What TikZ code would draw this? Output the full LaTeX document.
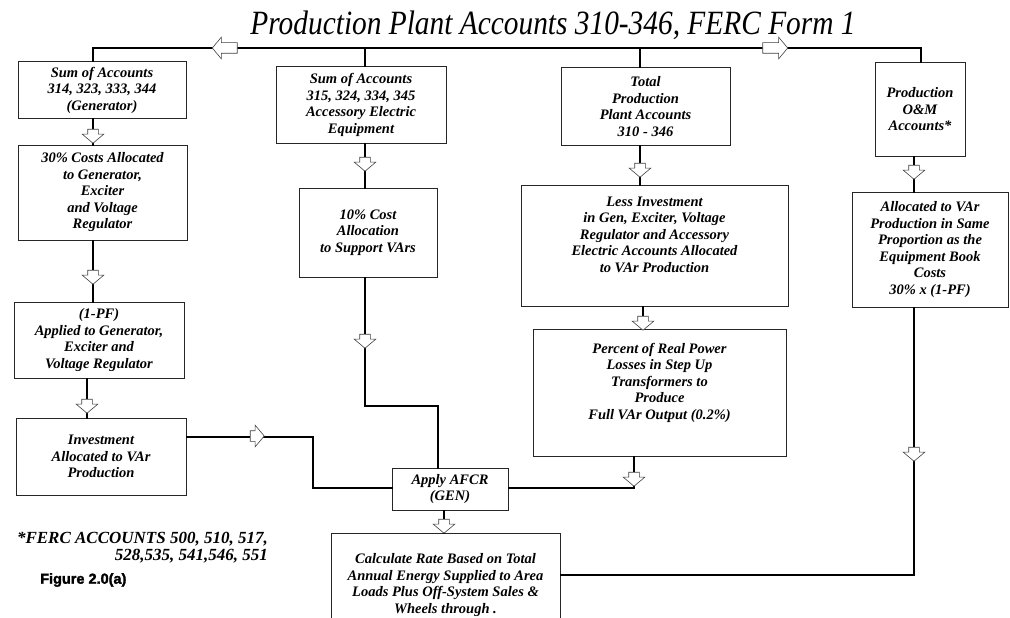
\documentclass[tikz,border=0pt]{standalone}
\usepackage{fontspec}
\setmainfont{Liberation Serif}
\newfontfamily\figfont[BoldFeatures={FakeBold=2}]{Liberation Sans}
\usetikzlibrary{shapes.arrows}

\begin{document}
\begin{tikzpicture}[x=1pt, y=-1pt,
  box/.style={draw=black!85, line width=1pt, fill=white, align=center, inner sep=1pt, font=\fontsize{14.5}{16.5}\selectfont\bfseries\itshape},
  conn/.style={line width=2pt, line cap=rect},
  harrow/.style={single arrow, draw=black!75, fill=white, line width=.6pt, inner xsep=0pt, inner ysep=5pt, minimum height=14pt, single arrow head extend=5.5pt, single arrow tip angle=100},
  darrow/.style={harrow, rotate=-90}]
\useasboundingbox (0,0) rectangle (1010,618);
\node[font=\fontsize{34}{34}\selectfont\itshape, anchor=base, inner sep=0pt] (title) at (553,35) {\scalebox{0.864}[1]{Production Plant Accounts 310-346, FERC Form 1}};
\node[box, minimum width=168pt, minimum height=56pt] (a1) at (102,90) {Sum of Accounts\\314, 323, 333, 344\\(Generator)};
\node[box, minimum width=169pt, minimum height=95pt] (a2) at (102.5,192.5) {30\% Costs Allocated\\to Generator,\\Exciter\\and Voltage\\Regulator};
\node[box, minimum width=170pt, minimum height=76pt] (a3) at (99,340) {(1-PF)\\Applied to Generator,\\Exciter and\\Voltage Regulator};
\node[box, minimum width=170pt, minimum height=77pt] (a4) at (101,456.5) {Investment\\Allocated to VAr\\Production};
\node[box, minimum width=170pt, minimum height=76pt] (b1) at (361,105) {Sum of Accounts\\315, 324, 334, 345\\Accessory Electric\\Equipment};
\node[box, minimum width=138pt, minimum height=89pt] (b2) at (368,232.5) {10\% Cost\\Allocation\\to Support VArs};
\node[box, minimum width=169pt, minimum height=77pt] (c1) at (645.5,106.5) {Total\\Production\\Plant Accounts\\310 - 346};
\node[box, minimum width=267pt, minimum height=121pt] (c2) at (654.5,245.5) {Less Investment\\in Gen, Exciter, Voltage\\Regulator and Accessory\\Electric Accounts Allocated\\to VAr Production\\[5pt]};
\node[box, minimum width=253pt, minimum height=127pt] (c3) at (659.5,392.5) {Percent of Real Power\\Losses in Step Up\\Transformers to\\Produce\\Full VAr Output (0.2\%)\\[6pt]};
\node[box, minimum width=90pt, minimum height=93pt] (d1) at (920,109.5) {Production\\O\&M\\Accounts*};
\node[box, minimum width=156pt, minimum height=115pt] (d2) at (930,249.5) {Allocated to VAr\\Production in Same\\Proportion as the\\Equipment Book\\Costs\\30\% x (1-PF)};
\node[box, minimum width=116pt, minimum height=42pt] (afcr) at (450,489) {Apply AFCR\\(GEN)};
\node[box, minimum width=229pt, minimum height=104pt] (calc) at (445.5,585) {Calculate Rate Based on Total\\Annual Energy Supplied to Area\\Loads Plus Off-System Sales \&\\Wheels through .};
\node[font=\fontsize{17}{17}\selectfont\bfseries\itshape, align=right, anchor=north east, inner sep=0pt] (ferc) at (268,532) {*FERC ACCOUNTS 500, 510, 517,\\528,535, 541,546, 551};
\node[font=\fontsize{14.5}{15}\selectfont\figfont\bfseries, anchor=west, inner sep=0pt] (fig) at (40,580) {Figure 2.0(a)};
\coordinate (xa) at (93,48);
\coordinate (xb) at (365,48);
\coordinate (xc) at (640,48);
\coordinate (xd) at (921,48);
\coordinate (ja) at (313,488);
\coordinate (jb) at (438,406);
\coordinate (jc) at (634,488);
\coordinate (jd) at (914,575);
\draw[conn] (a1.north -| xa) |- (xd) -- (d1.north -| xd);
\draw[conn] (xb) -- (b1.north -| xb);
\draw[conn] (xc) -- (c1.north -| xc);
\draw[conn] (a1.south -| xa) -- (a2.north -| xa);
\draw[conn] (a2.south -| xa) -- (a3.north -| xa);
\draw[conn] ([xshift=-12pt]a3.south) -- ([xshift=-12pt]a3.south |- a4.north);
\draw[conn] ([yshift=20pt]a4.east) -| (ja) -- (afcr.west |- ja);
\draw[conn] (b1.south -| xb) -- (b2.north -| xb);
\draw[conn] (b2.south -| xb) |- (jb) -- (jb |- afcr.north);
\draw[conn] (c1.south -| xc) -- (c2.north -| xc);
\draw[conn] ([xshift=-11.5pt]c2.south) -- ([xshift=-11.5pt]c2.south |- c3.north);
\draw[conn] (c3.south -| jc) -- (jc) -- (afcr.east |- jc);
\draw[conn] (d1.south -| jd) -- (d2.north -| jd);
\draw[conn] (d2.south -| jd) -- (jd) -- (calc.east |- jd);
\draw[conn] ([xshift=-6pt]afcr.south) -- ([xshift=-6pt]afcr.south |- calc.north);
\node[harrow, minimum height=25pt, rotate=180] (t1) at (227,48) {};
\node[harrow, minimum height=25pt] (t2) at (773,48) {};
\node[darrow] (ar1) at (93,134) {};
\node[darrow] (ar2) at (93,275) {};
\node[darrow] (ar3) at (87,404) {};
\node[harrow] (ar4) at (255,436) {};
\node[darrow] (br1) at (365,162) {};
\node[darrow] (br2) at (365,339) {};
\node[darrow] (cr1) at (640,168) {};
\node[darrow] (cr2) at (643,321) {};
\node[darrow] (cr3) at (634,477) {};
\node[darrow] (dr1) at (914,170) {};
\node[darrow] (dr2) at (914,452) {};
\node[darrow] (er1) at (444,524) {};
\end{tikzpicture}
\end{document}
